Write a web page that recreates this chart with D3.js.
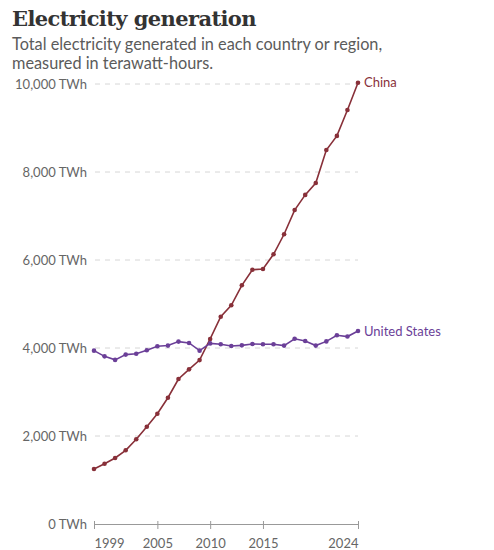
<!DOCTYPE html>
<html>
<head>
	<meta charset="utf-8">
	<title>Electricity generation</title>
	<style type="text/css">
		body { margin: 0; background: #fff; }
		svg { display: block; }
	</style>
	<script src="https://d3js.org/d3.v7.min.js"></script>
</head>
<body>
	<svg width="494" height="550"></svg>
	<script type="text/javascript">
		// years 1999..2024
		var years = [1999, 2000, 2001, 2002, 2003, 2004, 2005, 2006, 2007, 2008, 2009, 2010, 2011,
			2012, 2013, 2014, 2015, 2016, 2017, 2018, 2019, 2020, 2021, 2022, 2023, 2024];
		// TWh
		var china = [1250, 1370, 1500, 1675, 1925, 2210, 2505, 2870, 3295, 3515, 3725, 4205, 4710,
			4970, 5425, 5780, 5795, 6130, 6585, 7135, 7480, 7750, 8500, 8820, 9410, 10030];
		var usa = [3940, 3810, 3730, 3850, 3870, 3950, 4040, 4055, 4145, 4115, 3940, 4105, 4085,
			4045, 4060, 4090, 4085, 4085, 4055, 4210, 4160, 4055, 4150, 4290, 4260, 4385];
		var yTicks = [0, 2000, 4000, 6000, 8000, 10000];
		var xTicks = [1999, 2005, 2010, 2015, 2024];

		var series = [
			{name: 'China', values: china, col: '#883039'},
			{name: 'United States', values: usa, col: '#6b3f98'}
		];

		var svg = d3.select('svg');
		var font = "Lato, 'Open Sans', sans-serif";

		// title + subtitle
		svg.append('text')
			.attr('x', 12).attr('y', 26)
			.text('Electricity generation')
			.attr('font-family', "'DejaVu Serif', serif")
			.attr('font-weight', 'bold')
			.attr('font-size', '21px')
			.attr('letter-spacing', '-0.6px')
			.attr('fill', '#333');

		['Total electricity generated in each country or region,', 'measured in terawatt-hours.']
			.forEach(function (s, i) {
				svg.append('text')
					.attr('x', 12).attr('y', 50 + i * 19)
					.text(s)
					.attr('font-family', font)
					.attr('font-size', '16.3px')
					.attr('fill', '#5b5b5b');
			});

		var x = d3.scaleLinear().domain([1999, 2024]).range([94, 358]);
		var y = d3.scaleLinear().domain([0, 10000]).range([524, 84]);

		// gridlines + y labels
		yTicks.forEach(function (t) {
			if (t > 0) {
				svg.append('line')
					.attr('x1', 95).attr('x2', 358)
					.attr('y1', y(t)).attr('y2', y(t))
					.attr('stroke', '#d6d6d6')
					.attr('stroke-dasharray', '5,5');
			}
			svg.append('text')
				.attr('x', 87).attr('y', y(t))
				.attr('dy', '0.35em')
				.attr('text-anchor', 'end')
				.text(d3.format(',')(t) + ' TWh')
				.attr('font-family', font)
				.attr('font-size', '13px')
				.attr('fill', '#666');
		});

		// x axis
		var xAxis = svg.append('g')
			.attr('transform', 'translate(0,' + y(0) + ')')
			.call(d3.axisBottom(x).tickValues(xTicks).tickFormat(d3.format('d')).tickSize(5).tickSizeOuter(0));
		xAxis.select('.domain').attr('stroke', '#999');
		xAxis.selectAll('.tick line').attr('stroke', '#999').attr('y1', -3);
		xAxis.selectAll('.tick text')
			.attr('font-family', font)
			.attr('font-size', '13px')
			.attr('fill', '#666')
			.attr('dy', '1.2em')
			.attr('text-anchor', function (d, i) {
				return i === 0 ? 'start' : (i === xTicks.length - 1 ? 'end' : 'middle');
			});

		var line = d3.line()
			.x(function (d, i) { return x(years[i]); })
			.y(function (d) { return y(d); });

		series.forEach(function (s) {
			svg.append('path')
				.attr('d', line(s.values))
				.attr('fill', 'none')
				.attr('stroke', s.col)
				.attr('stroke-width', 1.6);

			svg.selectAll(null)
				.data(s.values)
				.enter()
				.append('circle')
				.attr('cx', function (d, i) { return x(years[i]); })
				.attr('cy', function (d) { return y(d); })
				.attr('r', 2.3)
				.attr('fill', s.col);

			var last = s.values[s.values.length - 1];
			svg.append('text')
				.attr('x', x(2024) + 6).attr('y', y(last))
				.attr('dy', '0.35em')
				.text(s.name)
				.attr('font-family', font)
				.attr('font-size', '13px')
				.attr('fill', s.col);
		});
	</script>
</body>
</html>
